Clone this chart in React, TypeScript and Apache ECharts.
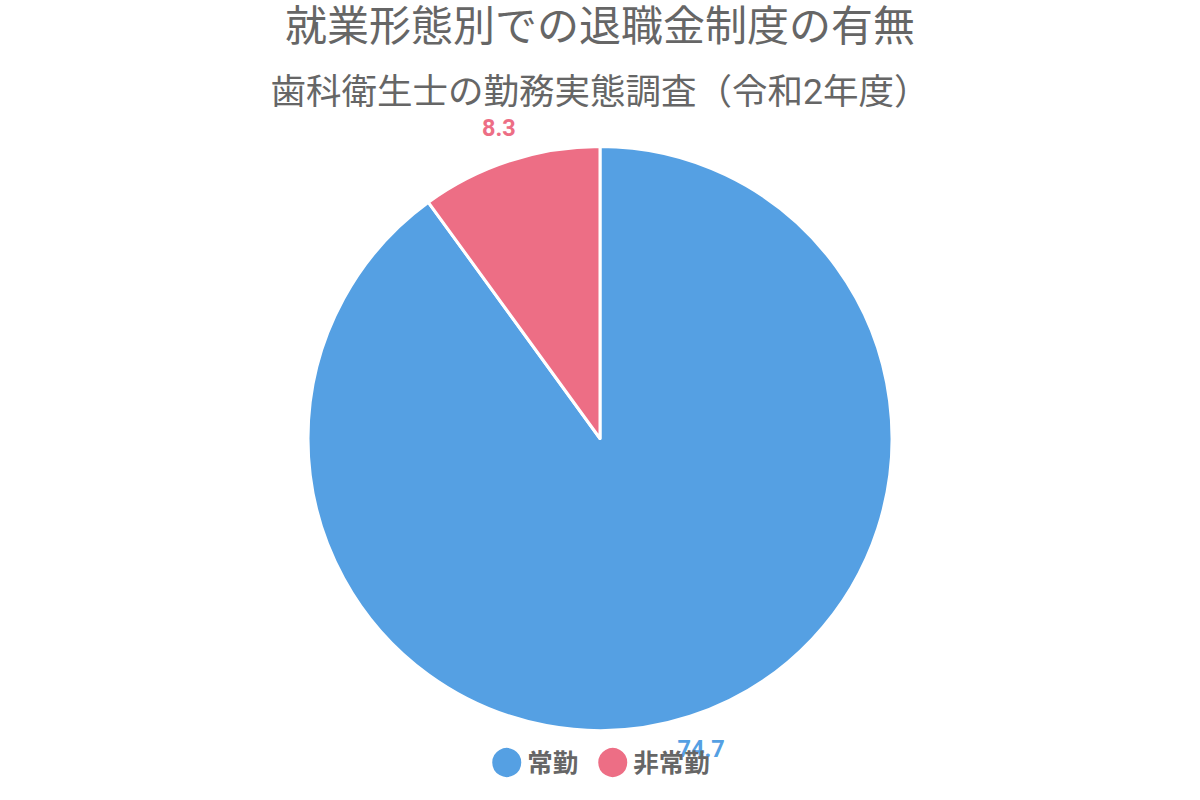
import React, { useEffect, useRef } from "react";
import * as echarts from "echarts";

const titleText = "就業形態別での退職金制度の有無";
const subtitleText = "歯科衛生士の勤務実態調査（令和2年度）";
const categories = ["常勤", "非常勤"];
const values = [74.7, 8.3];
const colors = ["#55A0E3", "#ED6E85"];

const FONT = "Roboto, 'Noto Sans CJK JP', 'Noto Sans', sans-serif";

export default function App() {
  const ref = useRef<HTMLDivElement>(null);
  useEffect(() => {
    document.body.style.margin = "0";
    const chart = echarts.init(ref.current!, null, { renderer: "svg" });
    const mainData = categories.map((name, i) => ({
      name,
      value: values[i],
      itemStyle: { color: colors[i] },
    }));
    const labelData = categories.map((name, i) => ({
      name,
      value: values[i],
      itemStyle: { color: "rgba(0,0,0,0)" },
      label: { color: colors[i] },
    }));
    chart.setOption({
      animation: false,
      title: [
        {
          text: titleText,
          left: "center",
          top: 0,
          textStyle: { fontSize: 42, fontWeight: "normal", color: "#666666", fontFamily: FONT },
        },
        {
          text: subtitleText,
          left: "center",
          top: 69,
          textStyle: { fontSize: 35.5, fontWeight: "normal", color: "#666666", fontFamily: FONT },
        },
      ],
      legend: {
        data: categories,
        bottom: 16,
        left: "center",
        icon: "circle",
        itemWidth: 31,
        itemHeight: 31,
        itemGap: 18,
        textStyle: { fontSize: 25.5, fontWeight: "bold", color: "#666666", fontFamily: FONT },
      },
      series: [
        {
          type: "pie",
          center: [600, 438.5],
          radius: [0, 292],
          startAngle: 90,
          clockwise: true,
          label: { show: false },
          labelLine: { show: false },
          itemStyle: { borderColor: "#ffffff", borderWidth: 3 },
          emphasis: { disabled: true },
          data: mainData,
        },
        {
          type: "pie",
          center: [600, 438.5],
          radius: [310, 338],
          startAngle: 90,
          clockwise: true,
          silent: true,
          label: {
            show: true,
            position: "inside",
            fontSize: 23.5,
            fontWeight: "bold",
            fontFamily: FONT,
            formatter: (p: any) => String(p.value),
          },
          labelLine: { show: false },
          emphasis: { disabled: true },
          data: labelData,
        },
      ],
    });
    return () => chart.dispose();
  }, []);
  return <div ref={ref} style={{ width: 1200, height: 800 }} />;
}
